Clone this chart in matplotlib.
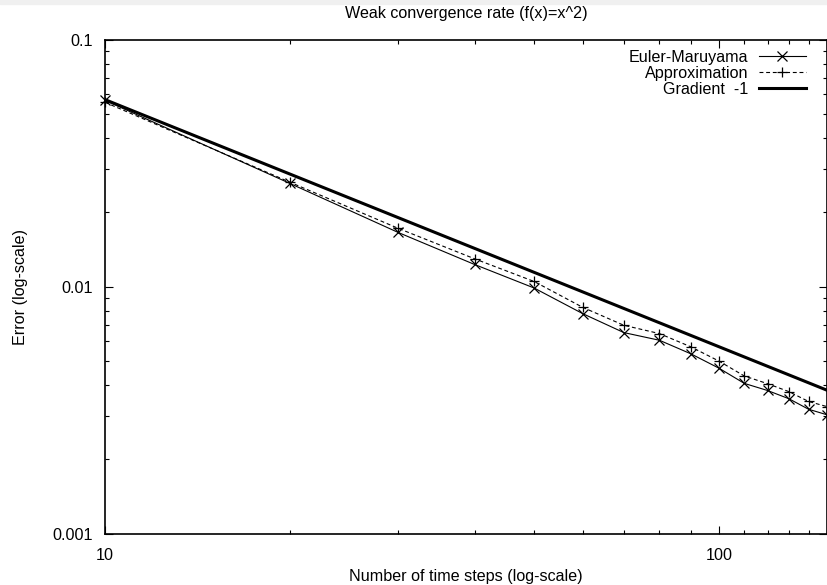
import matplotlib
matplotlib.use("Agg")
import matplotlib.pyplot as plt
from matplotlib.patches import Rectangle
from matplotlib.ticker import FixedLocator, FixedFormatter, NullFormatter

plt.rcParams['font.family'] = ['Liberation Sans', 'DejaVu Sans']

# ---- data ----
steps = [10, 20, 30, 40, 50, 60, 70, 80, 90, 100, 110, 120, 130, 140, 150]
euler = [0.0568, 0.0262, 0.0166, 0.0123, 0.00988, 0.00778, 0.00652, 0.00607,
         0.00535, 0.00468, 0.00406, 0.00380, 0.00352, 0.00319, 0.00303]
approx = [0.0558, 0.0265, 0.01725, 0.01297, 0.0105, 0.00825, 0.00698, 0.00646,
          0.00571, 0.00500, 0.00435, 0.00405, 0.00376, 0.00343, 0.00327]
grad_x = [10, 150]
grad_y = [0.0572, 0.00381]

x_major = [10, 100]
x_major_labels = ["10", "100"]
x_minor = [20, 30, 40, 50, 60, 70, 80, 90, 110, 120, 130, 140, 150]
y_major = [0.001, 0.01, 0.1]
y_major_labels = ["0.001", "0.01", "0.1"]
y_minor = [m * 10.0 ** e for e in (-3, -2) for m in range(2, 10)]

title = "Weak convergence rate (f(x)=x^2)"
xlabel = "Number of time steps (log-scale)"
ylabel = "Error (log-scale)"

FS = 11.6

fig = plt.figure(figsize=(8.28, 5.85), dpi=100)
fig.patches.append(Rectangle((0, 1 - 3.5 / 585), 1, 3.5 / 585,
                             transform=fig.transFigure, color='#f0f0f0', zorder=0))
ax = fig.add_axes([105 / 828, 1 - 533.7 / 585, (827 - 105) / 828, (533.7 - 39.7) / 585])

ax.plot(steps, euler, color='black', lw=0.8, marker='x', ms=6.5, mew=0.9,
        label='Euler-Maruyama', clip_on=False, zorder=3)
ax.plot(steps, approx, color='black', lw=0.8, ls=(0, (3.5, 2.5)), marker='+', ms=7,
        mew=0.9, label='Approximation', clip_on=False, zorder=3)
ax.plot(grad_x, grad_y, color='black', lw=2.2, label='Gradient  -1', zorder=2)

ax.set_xscale('log')
ax.set_yscale('log')
ax.set_xlim(10, 150)
ax.set_ylim(0.001, 0.1)

ax.xaxis.set_major_locator(FixedLocator(x_major))
ax.xaxis.set_major_formatter(FixedFormatter(x_major_labels))
ax.xaxis.set_minor_locator(FixedLocator(x_minor))
ax.xaxis.set_minor_formatter(NullFormatter())
ax.yaxis.set_major_locator(FixedLocator(y_major))
ax.yaxis.set_major_formatter(FixedFormatter(y_major_labels))
ax.yaxis.set_minor_locator(FixedLocator(y_minor))
ax.yaxis.set_minor_formatter(NullFormatter())

ax.tick_params(which='both', direction='in', top=True, right=True, width=0.8,
               labelsize=FS, colors='black')
ax.tick_params(which='major', length=6)
ax.tick_params(which='minor', length=3)
ax.tick_params(axis='y', which='major', pad=9)
ax.tick_params(axis='x', which='major', pad=10)

for s in ax.spines.values():
    s.set_linewidth(1.2)
    s.set_color('black')

ax.set_title(title, fontsize=FS, pad=15.5)
ax.set_xlabel(xlabel, fontsize=FS, labelpad=4.5)
ax.set_ylabel(ylabel, fontsize=FS, labelpad=17.5)

leg = ax.legend(loc='upper right', bbox_to_anchor=(1 - 8 / 722, 1 + 3 / 494),
                frameon=False, markerfirst=False, fontsize=FS,
                handlelength=2.95, handletextpad=0.65, labelspacing=0.07,
                borderaxespad=0.5, borderpad=0.3)

fig.savefig('out.png', dpi=100)
